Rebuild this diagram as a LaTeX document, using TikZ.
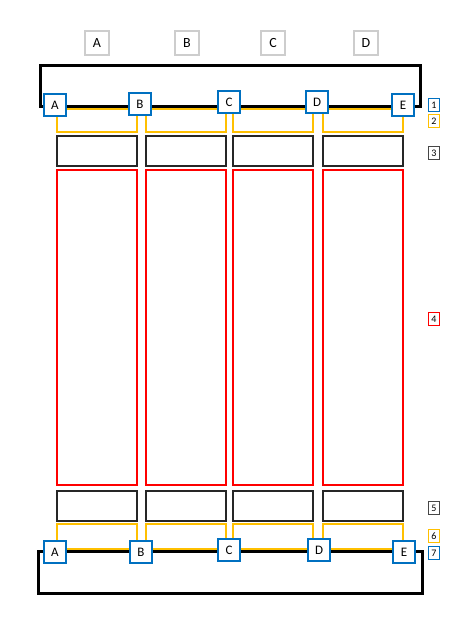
\documentclass[tikz,border=0pt]{standalone}
\usepackage{fontspec}
\setmainfont{Carlito}
\usetikzlibrary{positioning}
\definecolor{busblue}{RGB}{0,112,192}
\definecolor{feedyellow}{RGB}{255,192,0}
\definecolor{headgray}{RGB}{205,205,205}
\definecolor{tagdark}{RGB}{70,70,70}
\tikzset{
  junction/.style={draw=busblue,line width=2.4pt,fill=white,minimum size=22pt,inner sep=0pt,font=\fontsize{13}{13}\selectfont},
  colhead/.style={draw=headgray,line width=1.3pt,fill=white,minimum size=24pt,inner sep=0pt,font=\fontsize{14}{14}\selectfont},
  tag/.style={draw=#1,line width=1.3pt,fill=white,minimum width=11pt,minimum height=13pt,inner sep=0pt,font=\fontsize{10}{10}\selectfont},
  rail/.style={line width=3pt,black},
  feed/.style={line width=2pt,feedyellow},
  cell/.style={line width=2pt,black!85},
  bay/.style={line width=2pt,red}
}
\begin{document}
\begin{tikzpicture}[x=1pt,y=-1pt]
    \useasboundingbox (0,0) rectangle (467,631);

    % column headings
    \node[colhead] (hA) at (97,43) {A};
    \node[colhead] (hB) at (187,43) {B};
    \node[colhead] (hC) at (273,43) {C};
    \node[colhead] (hD) at (366,43) {D};

    % top and bottom loops
    \coordinate (tl) at (40,66);
    \coordinate (tr) at (420,107);
    \coordinate (bl) at (38,551);
    \coordinate (br) at (422,593);
    \draw[rail] (tl) rectangle (tr);
    \draw[rail] (bl) rectangle (br);
    \draw[feed] (57,109.5) -- (403,109.5);
    \draw[feed] (57,548.5) -- (403,548.5);

    % the four columns
    \foreach \x in {57,146,233,323}{
      \draw[feed] (\x,109) -- (\x,132) -- (\x+80,132) -- (\x+80,109);
      \draw[cell] (\x,136) rectangle (\x+80,166);
      \draw[bay] (\x,170) rectangle (\x+80,485);
      \draw[cell] (\x,491) rectangle (\x+80,521);
      \draw[feed] (\x,548) -- (\x,524) -- (\x+80,524) -- (\x+80,548);
    }

    % junctions
    \node[junction] (tA) at (55,105) {A};
    \node[junction] (tB) at (140,104) {B};
    \node[junction] (tC) at (229,102) {C};
    \node[junction] (tD) at (317,102) {D};
    \node[junction] (tE) at (403,105) {E};
    \node[junction] (bA) at (55,552) {A};
    \node[junction] (bB) at (141,552) {B};
    \node[junction] (bC) at (229,550) {C};
    \node[junction] (bD) at (319,550) {D};
    \node[junction] (bE) at (404,552) {E};

    % legend tags
    \node[tag=busblue] (k1) at (434,105) {1};
    \node[tag=feedyellow] (k2) at (434,121) {2};
    \node[tag=tagdark] (k3) at (434,153) {3};
    \node[tag=red] (k4) at (434,319) {4};
    \node[tag=tagdark] (k5) at (434,508) {5};
    \node[tag=feedyellow] (k6) at (434,536) {6};
    \node[tag=busblue] (k7) at (434,553) {7};
\end{tikzpicture}
\end{document}
